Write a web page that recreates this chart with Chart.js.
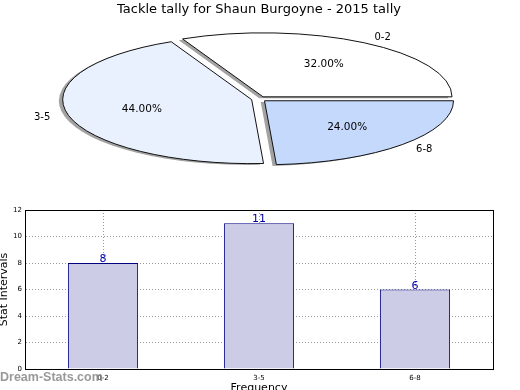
<!DOCTYPE html>
<html>
<head>
<meta charset="utf-8">
<script src="https://cdn.jsdelivr.net/npm/chart.js"></script>
<style>
  html, body { margin: 0; padding: 0; background: #fff; }
  #wrap { position: relative; width: 520px; height: 390px; overflow: hidden; }
  #pie { position: absolute; left: 0; top: 0; }
  #bar { position: absolute; left: 0; top: 200px; }
</style>
</head>
<body>
<div id="wrap">
  <canvas id="pie" width="520" height="200"></canvas>
  <canvas id="bar" width="520" height="190"></canvas>
</div>
<script>
const chartTitle = "Tackle tally for Shaun Burgoyne - 2015 tally"
const categories = ["0-2", "3-5", "6-8"]
const tallies = [8, 11, 6]
const sliceColors = ["#ffffff", "#eaf1fe", "#c5d9fd"]
const yTicks = [0, 2, 4, 6, 8, 10, 12]

Chart.defaults.font.family = "'DejaVu Sans', sans-serif"
Chart.defaults.color = "#000"

const SQUASH = 64 / 189   // ellipse height / width
const EXPLODE = 0.04      // slice pull-out, fraction of radius

// the pie is drawn as a circle and then flattened into an ellipse
const flatPie = {
  id: "flatPie",
  afterDatasetUpdate(chart) {
    chart.getDatasetMeta(0).data.forEach(arc => {
      const mid = (arc.startAngle + arc.endAngle) / 2
      arc.x += Math.cos(mid) * EXPLODE * arc.outerRadius
      arc.y += Math.sin(mid) * EXPLODE * arc.outerRadius
    })
  },
  beforeDatasetsDraw(chart) {
    const { ctx, chartArea } = chart
    const cx = (chartArea.left + chartArea.right) / 2
    const cy = (chartArea.top + chartArea.bottom) / 2
    ctx.save()
    ctx.translate(cx, cy)
    ctx.scale(1, SQUASH)
    ctx.translate(-cx, -cy)
    ctx.shadowColor = "rgba(70,70,70,0.5)"
    ctx.shadowOffsetX = -3.8
    ctx.shadowOffsetY = 1.3
    // outlines: no shadow and an even width
    const dpr = chart.currentDevicePixelRatio
    ctx.stroke = function () {
      this.save()
      this.setTransform(dpr, 0, 0, dpr, 0, 0)
      this.shadowColor = "transparent"
      CanvasRenderingContext2D.prototype.stroke.call(this)
      this.restore()
    }
  },
  afterDatasetsDraw(chart) {
    const { ctx, chartArea } = chart
    delete ctx.stroke
    ctx.restore()

    const cy = (chartArea.top + chartArea.bottom) / 2
    const labels = chart.data.labels
    const values = chart.data.datasets[0].data
    const total = values.reduce((a, b) => a + b, 0)
    ctx.save()
    ctx.fillStyle = "#000"
    ctx.textBaseline = "middle"
    chart.getDatasetMeta(0).data.forEach((arc, i) => {
      const mid = (arc.startAngle + arc.endAngle) / 2
      const r = arc.outerRadius
      const dx = Math.cos(mid), dy = Math.sin(mid)
      ctx.font = "10px 'DejaVu Sans'"
      ctx.textAlign = dx > 0 ? "left" : "right"
      ctx.fillText(labels[i], arc.x + dx * r * 1.1, cy + (arc.y + dy * r * 1.1 - cy) * SQUASH)
      ctx.font = "10.5px 'DejaVu Sans'"
      ctx.textAlign = "center"
      const pct = (values[i] / total * 100).toFixed(2) + "%"
      ctx.fillText(pct, arc.x + dx * r * 0.6, cy + (arc.y + dy * r * 0.6 - cy) * SQUASH)
    })
    ctx.restore()
  }
}

// chart.js runs clockwise, so feed the slices in reverse to match
new Chart(document.getElementById("pie"), {
  type: "pie",
  data: {
    labels: [...categories].reverse(),
    datasets: [{
      data: [...tallies].reverse(),
      backgroundColor: [...sliceColors].reverse(),
      borderColor: "#111",
      borderWidth: 1,
      borderJoinStyle: "miter",
      clip: false
    }]
  },
  options: {
    responsive: false,
    animation: false,
    rotation: 90,
    radius: 189,
    layout: { padding: { left: 0, right: 2, top: 0, bottom: 19.6 } },
    plugins: {
      legend: { display: false },
      tooltip: { enabled: false },
      title: {
        display: true,
        text: chartTitle,
        font: { size: 13, weight: "normal" },
        color: "#000",
        padding: { top: 2, bottom: 0 }
      }
    }
  },
  plugins: [flatPie]
})

const frame = {
  id: "frame",
  afterDraw(chart) {
    const { ctx, chartArea: a } = chart
    ctx.save()
    ctx.strokeStyle = "#000"
    ctx.lineWidth = 1
    ctx.strokeRect(a.left + 0.5, a.top + 0.5, a.right - a.left, a.bottom - a.top)
    ctx.font = "bold 12.5px 'Liberation Sans'"
    ctx.fillStyle = "rgba(128,128,128,0.8)"
    ctx.textAlign = "left"
    ctx.textBaseline = "alphabetic"
    ctx.fillText("Dream-Stats.com", 0, 181)
    ctx.restore()
  }
}

const barValues = {
  id: "barValues",
  afterDatasetsDraw(chart) {
    const { ctx } = chart
    const values = chart.data.datasets[0].data
    ctx.save()
    ctx.font = "11px 'DejaVu Sans'"
    ctx.fillStyle = "#0000aa"
    ctx.textAlign = "center"
    ctx.textBaseline = "alphabetic"
    chart.getDatasetMeta(0).data.forEach((bar, i) => {
      ctx.fillText(values[i], bar.x, bar.y - 1)
    })
    ctx.restore()
  }
}

new Chart(document.getElementById("bar"), {
  type: "bar",
  data: {
    labels: categories,
    datasets: [{
      data: tallies,
      backgroundColor: "#ccccE6",
      borderColor: "#000080",
      borderWidth: 1,
      barPercentage: 0.45,
      categoryPercentage: 1
    }]
  },
  options: {
    responsive: false,
    animation: false,
    layout: { padding: { left: 0, right: 27, top: 10, bottom: 0 } },
    plugins: {
      legend: { display: false },
      tooltip: { enabled: false }
    },
    scales: {
      x: {
        z: 1,
        afterFit(s) { s.height = 21 },
        ticks: { font: { size: 7 }, padding: 5 },
        grid: { offset: false, color: "rgba(0,0,0,0.4)", drawTicks: false },
        border: { color: "#000", dash: [1, 2] },
        title: { display: true, text: "Frequency", font: { size: 11 }, padding: { top: 0, bottom: -5 } }
      },
      y: {
        z: 1,
        min: yTicks[0],
        max: yTicks[yTicks.length - 1],
        afterBuildTicks(s) { s.ticks = yTicks.map(v => ({ value: v })) },
        afterFit(s) { s.width = 25 },
        ticks: { font: { size: 7 }, padding: 3 },
        grid: { color: "rgba(0,0,0,0.4)", drawTicks: false },
        border: { color: "#000", dash: [1, 2] },
        title: { display: true, text: "Stat Intervals", font: { size: 11 }, padding: { top: -2, bottom: 0 } }
      }
    }
  },
  plugins: [barValues, frame]
})
</script>
</body>
</html>
